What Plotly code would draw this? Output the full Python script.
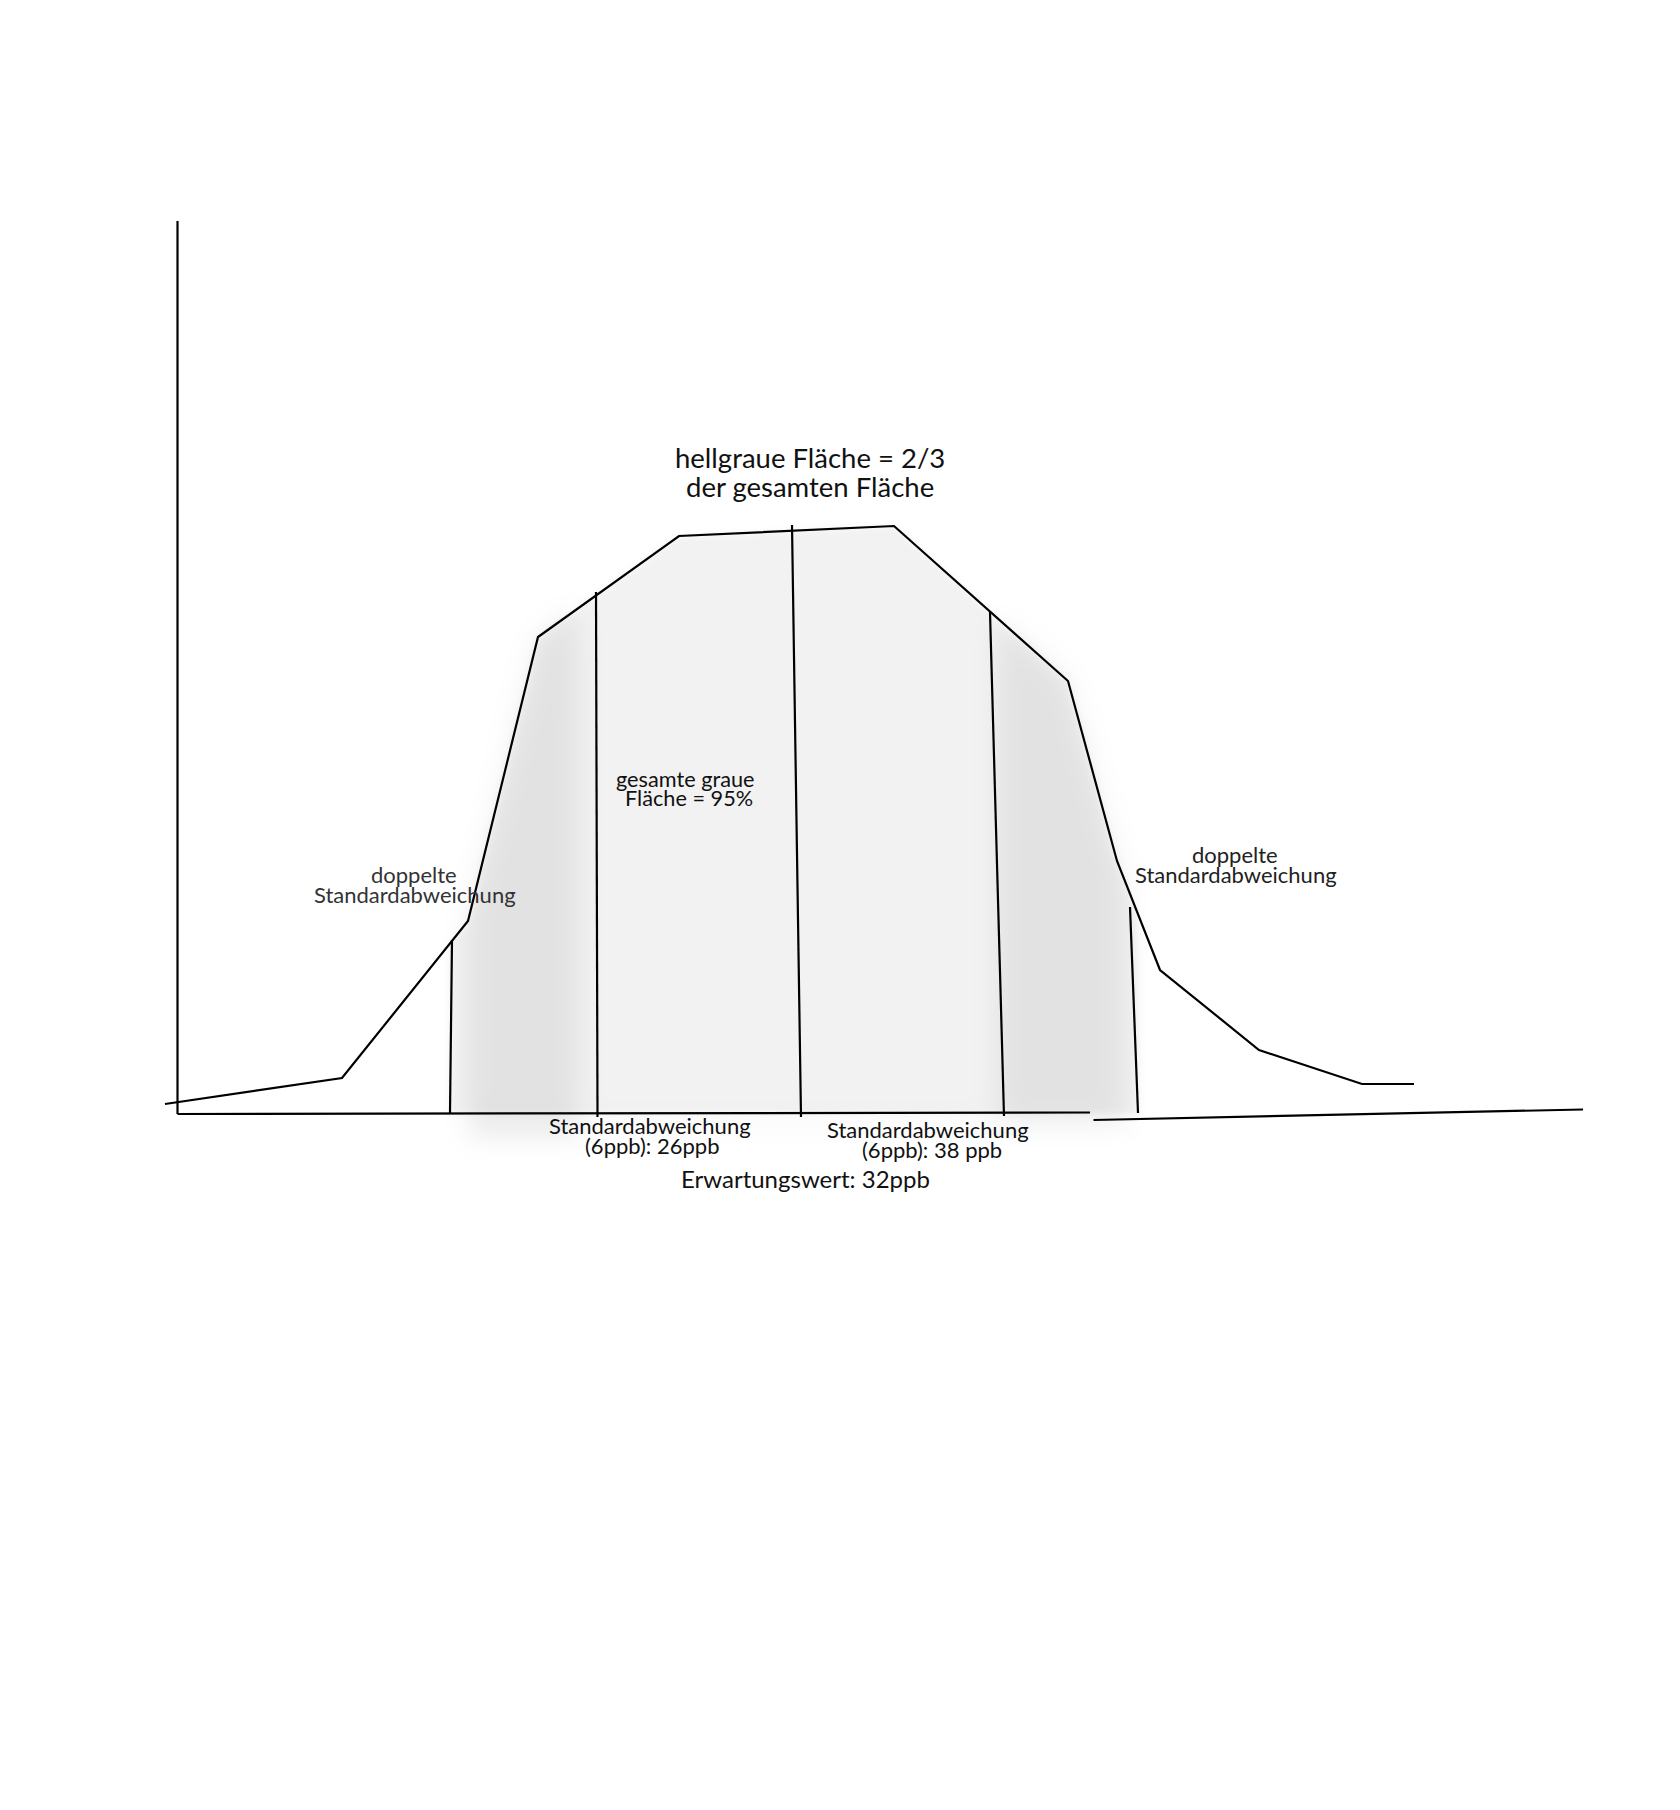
import base64
import struct
import zlib

import numpy as np
import plotly.graph_objects as go

# ---------------- data (sketch coordinates, page pixels) ----------------
curve_x = [165, 342, 468, 538, 679, 894, 1068, 1117, 1160, 1259, 1362, 1414]
curve_y = [1104, 1078, 921, 637, 536, 526, 681, 861, 970, 1050, 1084, 1084]

yaxis_x = [177.5, 177.5]
yaxis_y = [221, 1114]
xaxis1_x = [177.5, 1090]
xaxis1_y = [1114, 1112.5]
xaxis2_x = [1093.5, 1583]
xaxis2_y = [1120, 1109.5]

mark_names = ["2σ links", "σ links", "Erwartungswert", "σ rechts", "2σ rechts"]
mark_x_bottom = [450, 597.5, 801, 1004, 1138]
mark_y_bottom = [1113, 1117, 1117, 1116, 1113]
mark_x_top = [452, 596, 792, 990, 1130]
mark_y_top = [940, 592, 525, 612, 907]

label_texts = [
    "hellgraue Fläche = 2/3",
    "der gesamten Fläche",
    "gesamte graue",
    "Fläche = 95%",
    "doppelte",
    "Standardabweichung",
    "doppelte",
    "Standardabweichung",
    "Standardabweichung",
    "(6ppb): 26ppb",
    "Standardabweichung",
    "(6ppb): 38 ppb",
    "Erwartungswert: 32ppb",
]
label_x = [810, 810, 685, 689, 414, 415, 1235, 1236, 650, 652, 928, 932, 805]
label_y = [457.5, 486.5, 779, 798, 874.5, 894.5, 854.5, 874.5, 1125, 1145, 1129, 1149.5, 1178]
label_size = [27.5, 27.5, 21.7, 21.7, 22, 22, 22, 22, 22, 22, 22, 22, 24]
label_color = ["#111", "#111", "#111", "#111", "#333", "#333", "#222", "#222",
               "#111", "#111", "#111", "#111", "#111"]

# ---------------- soft grey shading (raster) ----------------
X0, X1, Y0, Y1 = 380, 1230, 460, 1210
xs = np.arange(X0, X1) + 0.5
ys = np.arange(Y0, Y1) + 0.5
XX, YY = np.meshgrid(xs, ys)
cy = np.interp(xs, curve_x, curve_y)[None, :]
under = YY > cy

light = under & (YY < 1114) & (XX >= mark_x_bottom[0]) & (XX <= mark_x_bottom[-1])
dark_l = under & (XX >= 468) & (XX <= 578) & (YY < 1138)
dark_r = under & (XX >= 998) & (XX <= 1124) & (YY < 1120)
haze = (XX >= 470) & (XX <= 1130) & (YY >= 1114) & (YY < 1130)


def blur(a, s):
    a = a.astype(float)
    r = int(3 * s)
    k = np.exp(-0.5 * (np.arange(-r, r + 1) / s) ** 2)
    k /= k.sum()
    p = np.pad(a, ((0, 0), (r, r)))
    out = np.zeros_like(a)
    for i in range(2 * r + 1):
        out += k[i] * p[:, i:i + a.shape[1]]
    p = np.pad(out, ((r, r), (0, 0)))
    out2 = np.zeros_like(a)
    for i in range(2 * r + 1):
        out2 += k[i] * p[i:i + a.shape[0], :]
    return out2


darkness = (13 * blur(light, 3.5) + 16 * blur(dark_l | dark_r, 13)
            + 5 * blur(haze, 10))
img = np.clip(255 - darkness, 0, 255).round().astype(np.uint8)


def png_gray(arr):
    h, w = arr.shape
    raw = b"".join(b"\x00" + arr[i].tobytes() for i in range(h))

    def chunk(t, d):
        c = struct.pack(">I", len(d)) + t + d
        return c + struct.pack(">I", zlib.crc32(t + d) & 0xFFFFFFFF)

    return (b"\x89PNG\r\n\x1a\n"
            + chunk(b"IHDR", struct.pack(">IIBBBBB", w, h, 8, 0, 0, 0, 0))
            + chunk(b"IDAT", zlib.compress(raw, 9))
            + chunk(b"IEND", b""))


src = "data:image/png;base64," + base64.b64encode(png_gray(img)).decode()

fig = go.Figure()
fig.add_trace(go.Image(source=src, x0=X0 + 0.5, y0=Y0 + 0.5, dx=1, dy=1,
                       hoverinfo="skip"))

line_style = dict(color="black", width=2.2)
fig.add_trace(go.Scatter(x=yaxis_x, y=yaxis_y, mode="lines", line=line_style))
fig.add_trace(go.Scatter(x=xaxis1_x, y=xaxis1_y, mode="lines", line=line_style))
fig.add_trace(go.Scatter(x=xaxis2_x, y=xaxis2_y, mode="lines", line=line_style))
fig.add_trace(go.Scatter(x=curve_x, y=curve_y, mode="lines", line=line_style))
for n, xb, yb, xt, yt in zip(mark_names, mark_x_bottom, mark_y_bottom,
                             mark_x_top, mark_y_top):
    fig.add_trace(go.Scatter(x=[xb, xt], y=[yb, yt], mode="lines", name=n,
                             line=line_style))

for t, x, y, s, c in zip(label_texts, label_x, label_y, label_size, label_color):
    fig.add_annotation(x=x, y=y, text=t, showarrow=False, xanchor="center",
                       yanchor="middle", font=dict(family="Lato", size=s, color=c))

fig.update_layout(
    width=1680, height=1810, margin=dict(l=0, r=0, t=0, b=0),
    paper_bgcolor="white", plot_bgcolor="white", showlegend=False,
    xaxis=dict(range=[0, 1680], visible=False, fixedrange=True),
    yaxis=dict(range=[1810, 0], visible=False, fixedrange=True),
)
fig.write_html("out.html")
